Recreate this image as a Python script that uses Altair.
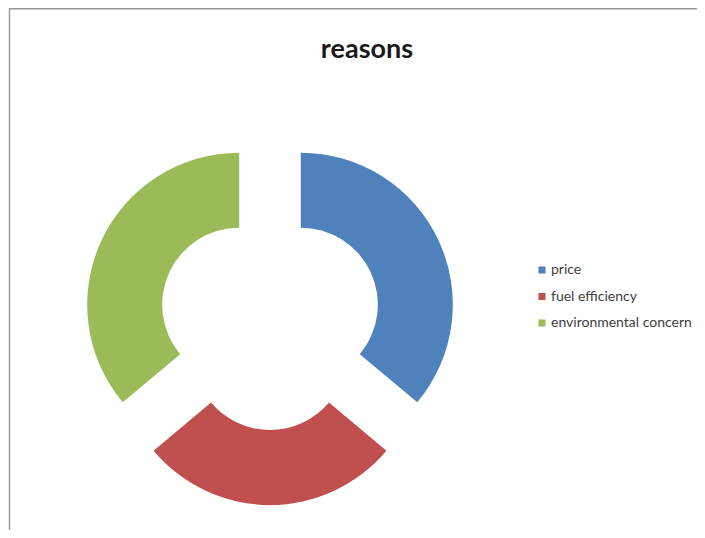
import math
import altair as alt
import pandas as pd

# ---- data ----
reasons = ["price", "fuel efficiency", "environmental concern"]
counts = [13, 10, 13]
colors = ["#4F81BD", "#C0504D", "#9BBB59"]
title_text = "reasons"

df = pd.DataFrame({"reason": reasons, "value": counts, "order": list(range(len(reasons)))})
total = sum(counts)

W, H = 689, 522
CX, CY = 262, 311
R_OUT, R_IN = 152, 77
EXPLODE = 34

color_enc = alt.Color(
    "reason:N",
    scale=alt.Scale(domain=reasons, range=colors),
    legend=alt.Legend(
        title=None, orient="none", legendX=527, legendY=255,
        symbolType="square", symbolSize=50, symbolStrokeWidth=0,
        labelFontSize=14, labelFont="Lato", labelColor="#404040",
        rowPadding=12.5, labelOffset=2, labelLimit=400,
    ),
)

layers = []
cum = 0
for name, v in zip(reasons, counts):
    mid = (cum + v / 2) / total * 2 * math.pi
    cum += v
    dx = EXPLODE * math.sin(mid)
    dy = -EXPLODE * math.cos(mid)
    layer = (
        alt.Chart(df)
        .transform_window(cum="sum(value)", sort=[alt.SortField("order")], frame=[None, 0])
        .transform_calculate(start="datum.cum - datum.value")
        .transform_filter(alt.datum.reason == name)
        .mark_arc(innerRadius=R_IN, outerRadius=R_OUT, xOffset=dx, yOffset=dy)
        .encode(
            theta=alt.Theta("start:Q", scale=alt.Scale(domain=[0, total])),
            theta2="cum:Q",
            color=color_enc,
            x=alt.value(CX),
            y=alt.value(CY),
        )
    )
    layers.append(layer)

title_layer = (
    alt.Chart(pd.DataFrame({"t": [title_text]}))
    .mark_text(font="Lato", fontSize=27, fontWeight="bold", color="#1a1a1a", baseline="alphabetic")
    .encode(text="t:N", x=alt.value(359), y=alt.value(50))
)

dummy = pd.DataFrame({"a": [0]})
left_border = alt.Chart(dummy).mark_rule(color="#9a9a9a", strokeWidth=1.5).encode(
    x=alt.value(1.5), y=alt.value(0), y2=alt.value(H)
)
top_border = alt.Chart(dummy).mark_rule(color="#9a9a9a", strokeWidth=1.5).encode(
    x=alt.value(1.5), x2=alt.value(W), y=alt.value(0.75)
)

chart = alt.layer(left_border, top_border, *layers, title_layer).properties(
    width=W, height=H,
    autosize=alt.AutoSizeParams(type="none"),
    padding=0,
).configure_view(stroke=None)

chart.save("out.html", embed_options={"renderer": "svg", "actions": False})
